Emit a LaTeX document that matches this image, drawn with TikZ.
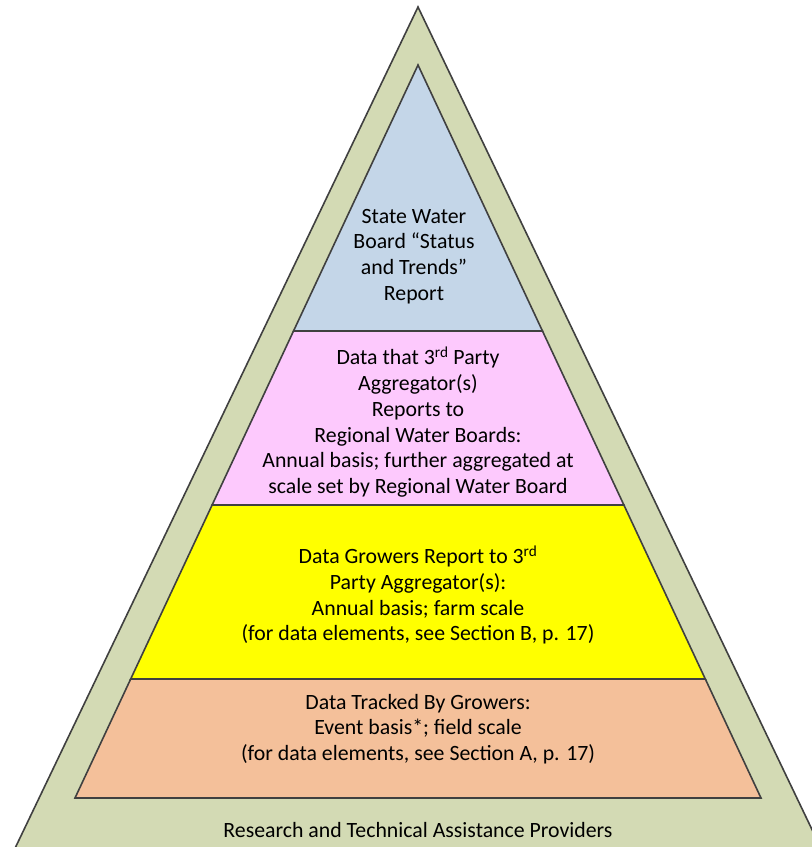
\documentclass[tikz,border=0pt]{standalone}
\usepackage{fontspec}
\setmainfont{Carlito}
\usetikzlibrary{calc}
\definecolor{gband}{HTML}{D3DAB4}
\definecolor{lblue}{HTML}{C4D6E8}
\definecolor{lpink}{HTML}{FDC9FD}
\definecolor{lyell}{HTML}{FFFF00}
\definecolor{lorng}{HTML}{F4C09A}
\definecolor{edge}{HTML}{404040}
\begin{document}
\begin{tikzpicture}[x=1pt,y=-1pt,
  layer/.style={draw=edge,line width=1.6pt,line join=miter},
  lbl/.style={align=center,inner sep=0pt,anchor=center,font=\fontsize{21.8}{25.7}\selectfont}]
\useasboundingbox (0,0) rectangle (812,847);
\begin{scope}
\clip (0,0) rectangle (812,847);
\coordinate (oa) at (418,7);
\coordinate (ol) at ($(418,7)+(-0.479*900,900)$);
\coordinate (or) at ($(418,7)+(0.479*900,900)$);
\filldraw[layer,fill=gband] (oa) -- (ol) -- (or) -- cycle;
\end{scope}
% inner pyramid
\coordinate (ia) at (418,65);
\coordinate (il) at (75,798);
\coordinate (ir) at (761,798);
\coordinate (l1) at ($(ia)!0.3629!(il)$);
\coordinate (r1) at ($(ia)!0.3629!(ir)$);
\coordinate (l2) at ($(ia)!0.6003!(il)$);
\coordinate (r2) at ($(ia)!0.6003!(ir)$);
\coordinate (l3) at ($(ia)!0.8377!(il)$);
\coordinate (r3) at ($(ia)!0.8377!(ir)$);
\filldraw[layer,fill=lorng] (l3) -- (il) -- (ir) -- (r3) -- cycle;
\filldraw[layer,fill=lyell] (l2) -- (l3) -- (r3) -- (r2) -- cycle;
\filldraw[layer,fill=lpink] (l1) -- (l2) -- (r2) -- (r1) -- cycle;
\filldraw[layer,fill=lblue] (ia) -- (l1) -- (r1) -- cycle;
% labels
\node[lbl] (top) at (414,256.5) {State Water\\Board “Status\\and Trends”\\Report};
\node[lbl] (agg) at (418,422) {Data that 3\textsuperscript{rd} Party\\Aggregator(s)\\Reports to\\Regional Water Boards:\\Annual basis; further aggregated at\\scale set by Regional Water Board};
\node[lbl] (grow) at (418,595) {Data Growers Report to 3\textsuperscript{rd}\\Party Aggregator(s):\\Annual basis; farm scale\\(for data elements, see Section B, p. 17)};
\node[lbl] (track) at (418,729) {Data Tracked By Growers:\\Event basis*; field scale\\(for data elements, see Section A, p. 17)};
\node[lbl,anchor=base] (res) at (418,837) {Research and Technical Assistance Providers};
\end{tikzpicture}
\end{document}
